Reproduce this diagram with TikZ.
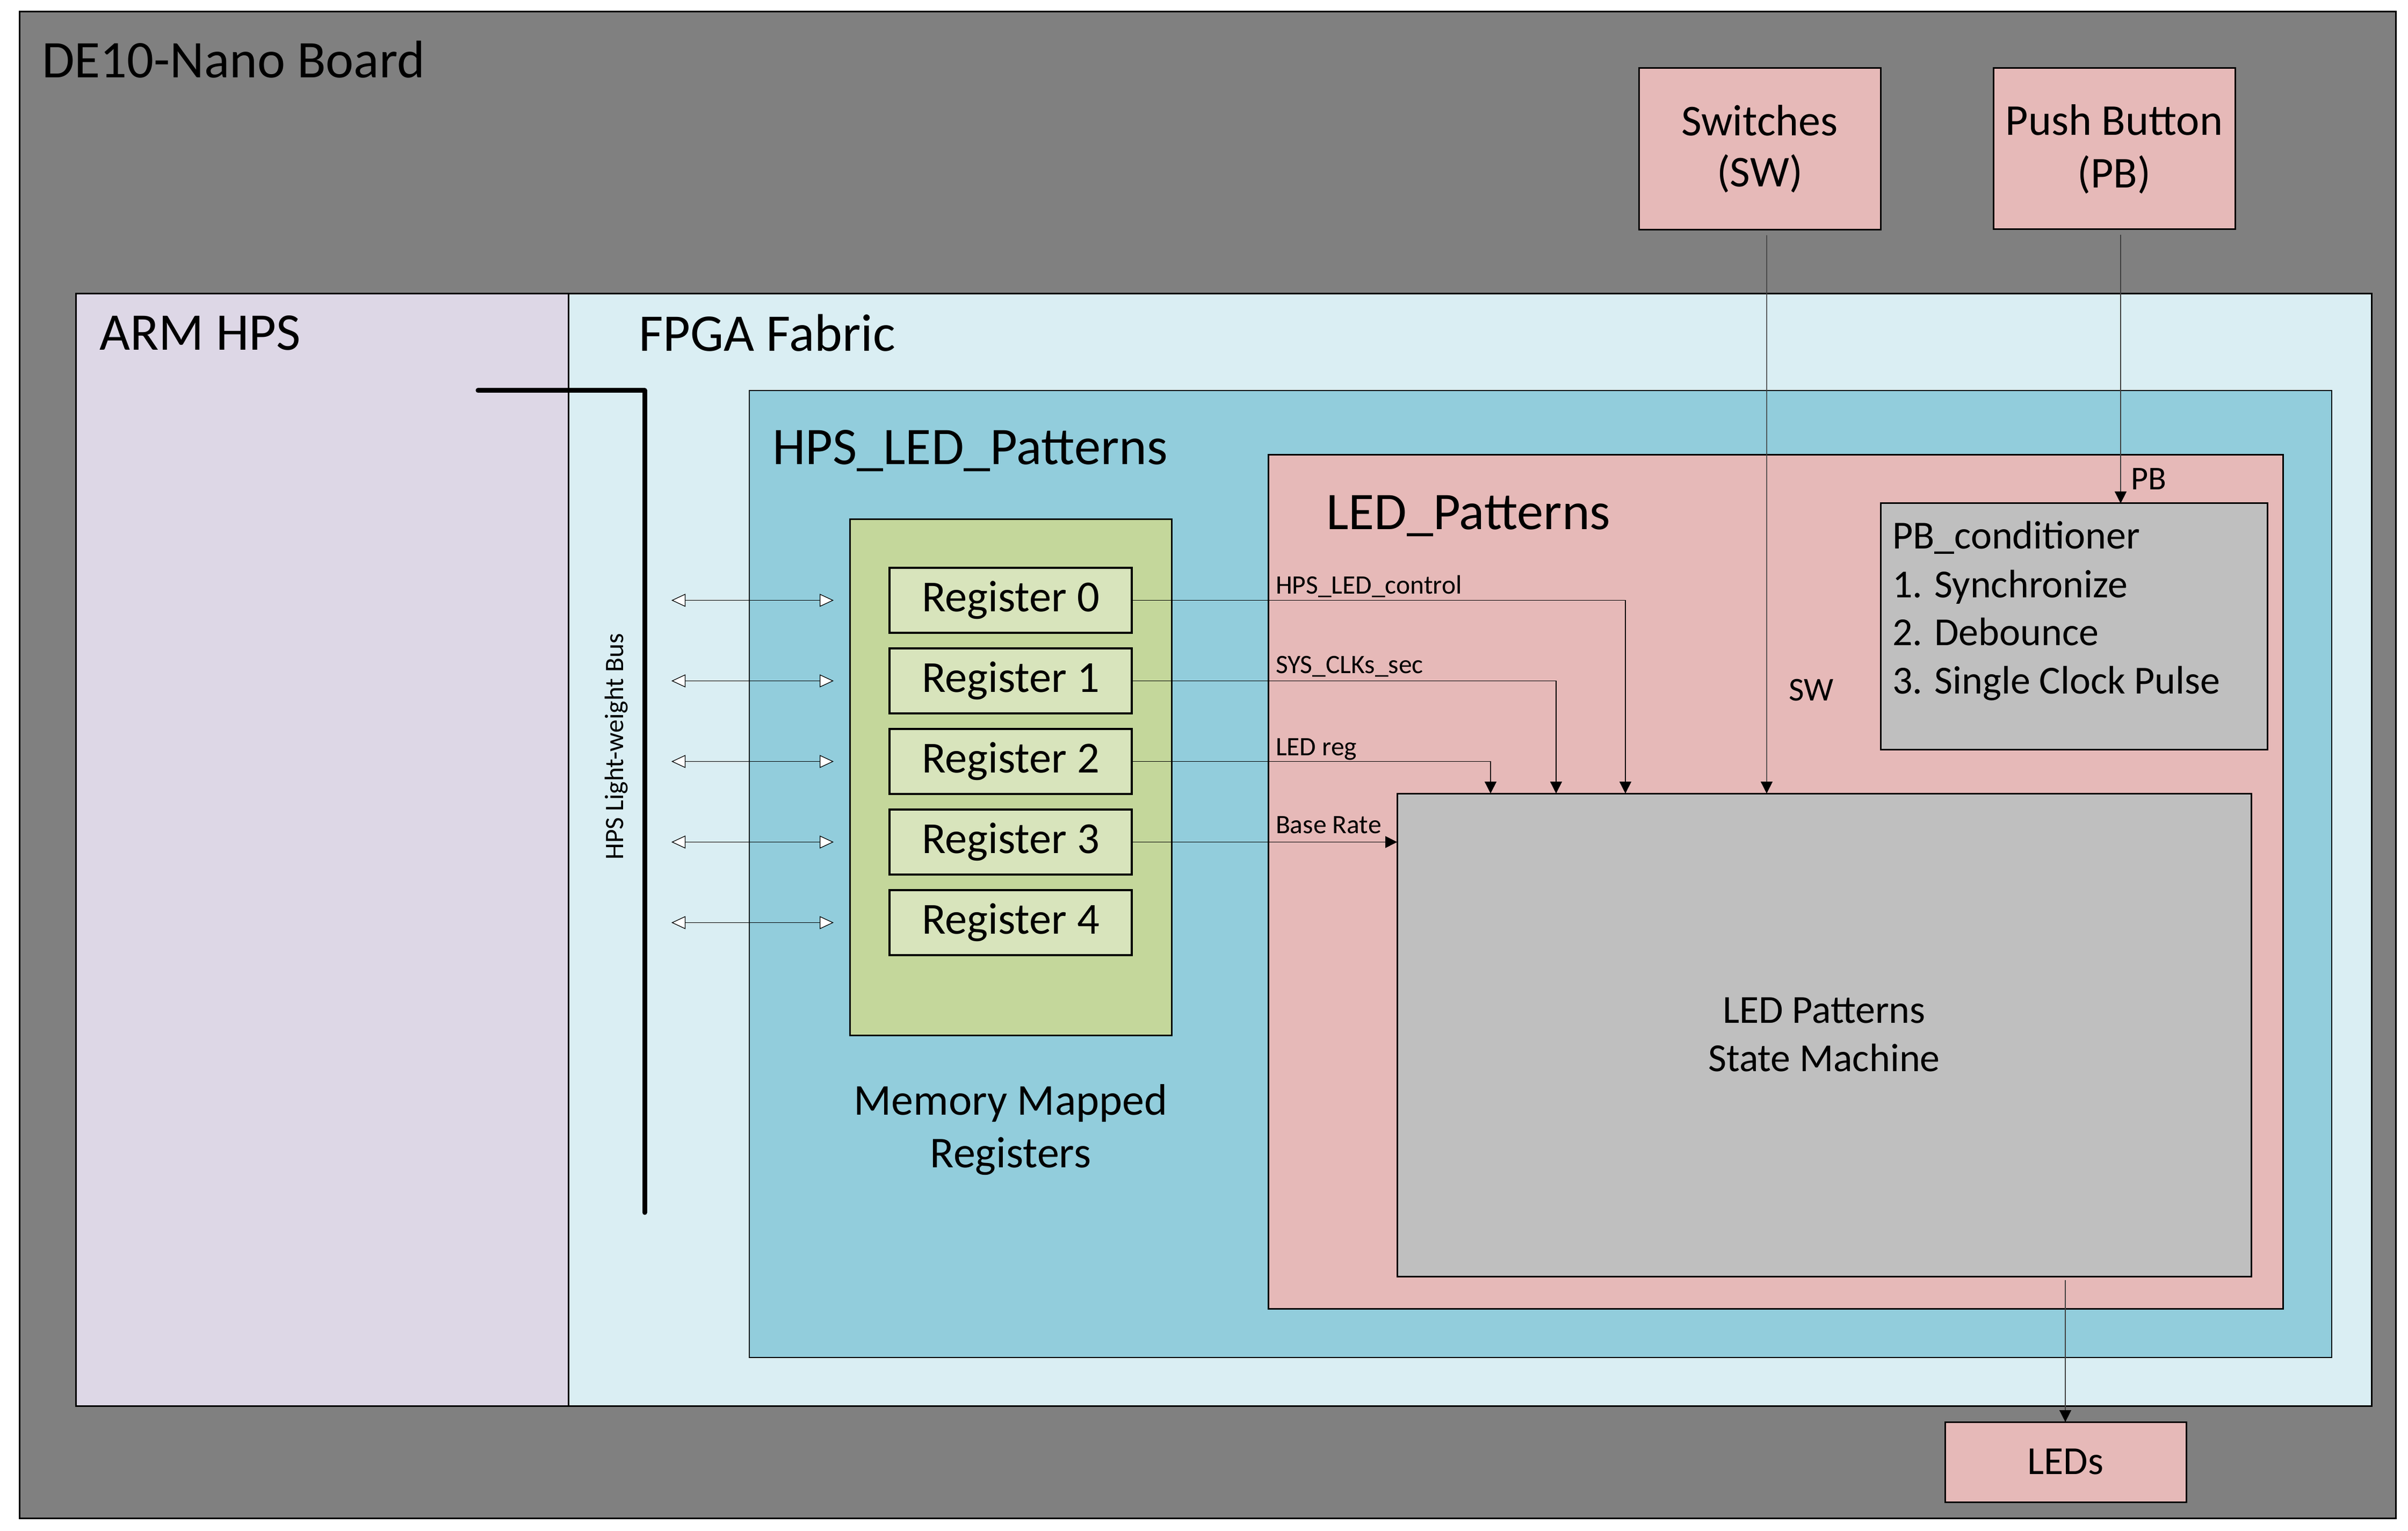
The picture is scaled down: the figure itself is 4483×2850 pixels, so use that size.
\documentclass[tikz,border=0pt]{standalone}
\usepackage{fontspec}
\setmainfont{Carlito}
\usetikzlibrary{arrows.meta,calc}
\definecolor{boardgray}{HTML}{808080}
\definecolor{armfill}{HTML}{DDD7E6}
\definecolor{fpgafill}{HTML}{DAEEF3}
\definecolor{hpsfill}{HTML}{92CDDC}
\definecolor{memfill}{HTML}{C4D79B}
\definecolor{regfill}{HTML}{D8E4BC}
\definecolor{pinkfill}{HTML}{E6B9B8}
\definecolor{smfill}{HTML}{BFBFBF}
\definecolor{wiregray}{HTML}{404040}
\begin{document}
\begin{tikzpicture}[x=0.2pt,y=-0.2pt,
  box/.style={draw=black, line width=0.6pt, rectangle, inner sep=0pt, outer sep=0pt, anchor=north west},
  thinbox/.style={box, line width=0.4pt},
  regbox/.style={draw=black, line width=0.7pt, fill=regfill, rectangle, inner sep=0pt, outer sep=0pt,
    minimum width=90.2pt, minimum height=24.2pt, font=\fontsize{16.5pt}{19.6pt}\selectfont},
  titletxt/.style={font=\fontsize{19.7pt}{23pt}\selectfont, anchor=base west, inner sep=0pt},
  midtxt/.style={font=\fontsize{16.4pt}{19.6pt}\selectfont, anchor=base, inner sep=0pt},
  smalltxt/.style={font=\fontsize{14.8pt}{18pt}\selectfont, inner sep=0pt},
  siglbl/.style={font=\fontsize{9.9pt}{12pt}\selectfont, anchor=base west, inner sep=0pt},
  portlbl/.style={font=\fontsize{12.4pt}{15pt}\selectfont, anchor=base west, inner sep=0pt},
  sig/.style={draw=black, line width=0.3pt, -{Triangle[length=4.4pt,width=4.4pt]}},
  sig2/.style={draw=wiregray, line width=0.3pt, -{Triangle[length=4.4pt,width=4.4pt,color=black]}},
  busarrow/.style={draw=black, line width=0.25pt, {Triangle[length=5.2pt,width=4.8pt,fill=white]}-{Triangle[length=5.2pt,width=4.8pt,fill=white]}},
  busline/.style={draw=black, line width=1.8pt, line cap=round, line join=round}
]
\fill[white] (0,0) rectangle (4483,2850);
\useasboundingbox (0,0) rectangle (4483,2850);

% board
\node[box, fill=boardgray, minimum width=884.8pt, minimum height=560.8pt] (board) at (36,22) {};
\node[titletxt] (boardlbl) at (77,145) {DE10-Nano Board};

% ARM HPS and FPGA fabric
\node[box, fill=armfill, minimum width=183.4pt, minimum height=414pt] (arm) at (141,547) {};
\node[box, fill=fpgafill, minimum width=671.4pt, minimum height=414pt] (fpga) at (1058,547) {};
\draw[black, line width=0.3pt] (arm.north east) -- (arm.south east);
\node[titletxt] (armlbl) at (184,652) {ARM HPS};
\node[titletxt] (fpgalbl) at (1188,654) {FPGA Fabric};

% bus
\coordinate (busa) at (890,727);
\coordinate (busb) at (1200,727);
\coordinate (busc) at (1200,2257);
\draw[busline] (busa) -- (busb) -- (busc);
\node[font=\fontsize{9.9pt}{12pt}\selectfont, rotate=90, inner sep=0pt] (buslbl) at (1148,1390) {HPS Light-weight Bus};

% HPS_LED_Patterns
\node[thinbox, fill=hpsfill, minimum width=589.2pt, minimum height=360pt] (hpsled) at (1395,727) {};
\node[titletxt] (hpsledlbl) at (1437,865) {HPS\_LED\_Patterns};

% memory mapped registers
\node[box, fill=memfill, minimum width=119.8pt, minimum height=192pt] (mem) at (1582,967) {};
\foreach \i/\y in {0/1117.5,1/1267.5,2/1417.5,3/1567.5,4/1717.5}{
  \node[regbox] (r\i) at (1881.5,\y) {Register \i};
  \coordinate (bl\i) at (1250,\y);
  \coordinate (br\i) at (1552,\y);
  \draw[busarrow] (bl\i) -- (br\i);
}
\node[midtxt] (memlbla) at (1881.5,2075) {Memory Mapped};
\node[midtxt] (memlblb) at (1881.5,2173) {Registers};

% LED_Patterns
\node[box, fill=pinkfill, minimum width=377.8pt, minimum height=317.8pt] (ledp) at (2361,847) {};
\node[titletxt] (ledplbl) at (2468,985) {LED\_Patterns};

% state machine
\node[box, fill=smfill, minimum width=318pt, minimum height=179.8pt] (sm) at (2601,1477) {};
\node[smalltxt, anchor=base] (smlbla) at (3396,1904) {LED Patterns};
\node[smalltxt, anchor=base] (smlblb) at (3396,1994) {State Machine};

% PB conditioner
\node[box, fill=smfill, minimum width=144pt, minimum height=91.6pt] (pbc) at (3501,937) {};
\node[smalltxt, anchor=base west] (pbc1) at (3522,1022) {PB\_conditioner};
\node[smalltxt, anchor=base west] (pbc2) at (3522,1112) {1. Synchronize};
\node[smalltxt, anchor=base west] (pbc3) at (3522,1202) {2. Debounce};
\node[smalltxt, anchor=base west] (pbc4) at (3522,1291) {3. Single Clock Pulse};

% switches, push button, LEDs
\node[box, fill=pinkfill, minimum width=90pt, minimum height=60.2pt] (sw) at (3051,127) {};
\node[midtxt] (swlbla) at (3276,253) {Switches};
\node[midtxt] (swlblb) at (3276,348) {(SW)};
\node[box, fill=pinkfill, minimum width=90pt, minimum height=60pt] (pb) at (3711,127) {};
\node[midtxt] (pblbla) at (3936,252) {Push Button};
\node[midtxt] (pblblb) at (3936,350) {(PB)};
\node[box, fill=pinkfill, minimum width=89.8pt, minimum height=29.8pt] (leds) at (3621,2647) {};
\node[smalltxt, anchor=base] (ledslbl) at (3845.5,2744) {LEDs};

% register connectors
\coordinate (in0) at ($(sm.north west)+(425,0)$);
\coordinate (in1) at ($(sm.north west)+(296,0)$);
\coordinate (in2) at ($(sm.north west)+(174,0)$);
\coordinate (insw) at ($(sm.north west)+(688,0)$);
\draw[sig] (r0.east) -| (in0);
\draw[sig] (r1.east) -| (in1);
\draw[sig] (r2.east) -| (in2);
\draw[sig] (r3.east) -- (r3.east -| sm.west);
\node[siglbl] (l0) at (2374,1105) {HPS\_LED\_control};
\node[siglbl] (l1) at (2374,1254) {SYS\_CLKs\_sec};
\node[siglbl] (l2) at (2374,1406) {LED reg};
\node[siglbl] (l3) at (2374,1551) {Base Rate};

% switches / push button / LEDs connectors
\coordinate (swout) at ($(sw.south)+(13,10)$);
\coordinate (pbout) at ($(pb.south)+(12,10)$);
\coordinate (smout) at ($(sm.south)+(449,7)$);
\draw[sig2] (swout) -- (insw);
\node[portlbl] (swport) at (3329,1304) {SW};
\draw[sig2] (pbout) -- (pbout |- pbc.north);
\node[portlbl] (pbport) at (3966,912) {PB};
\draw[sig2] (smout) -- (smout |- leds.north);
\end{tikzpicture}
\end{document}
